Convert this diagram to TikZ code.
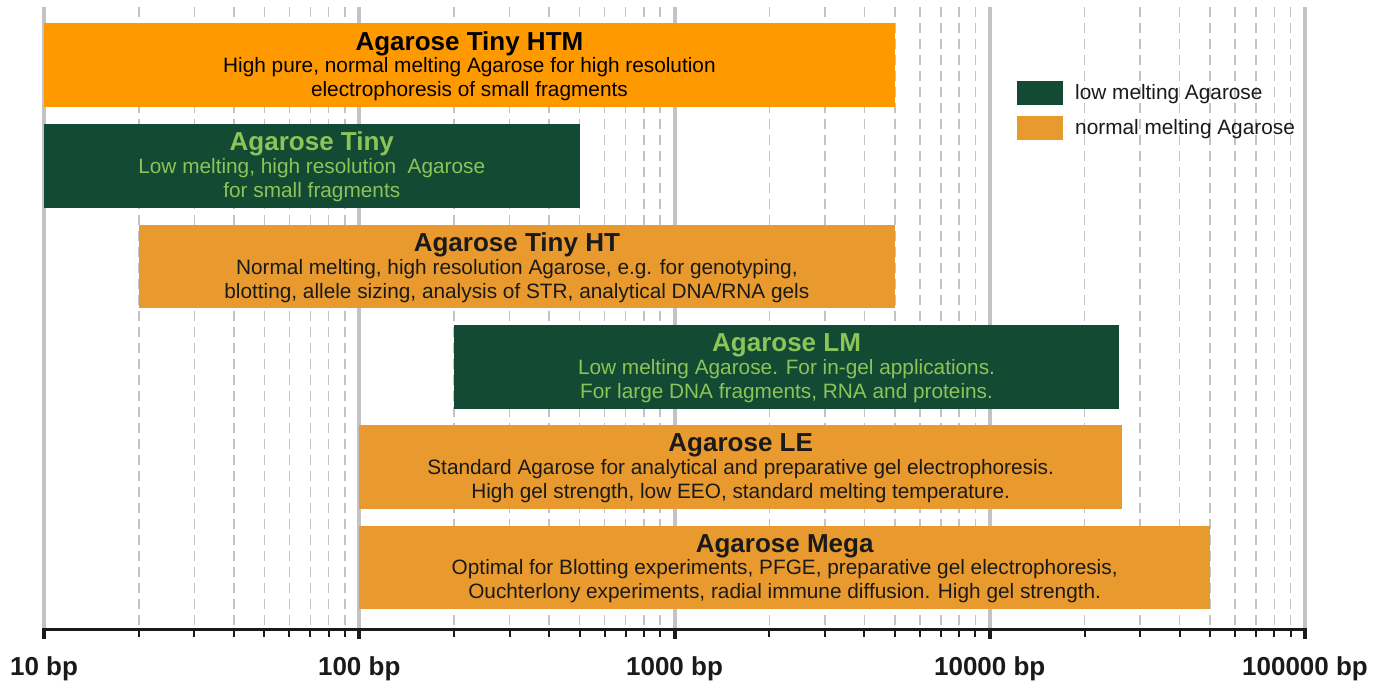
\documentclass[tikz,border=0pt]{standalone}
\usepackage{fontspec}
\setmainfont{Liberation Sans}
\definecolor{gridgray}{HTML}{C3C3C7}
\definecolor{orangeA}{HTML}{FF9900}
\definecolor{orangeB}{HTML}{E99A2E}
\definecolor{greenA}{HTML}{134A33}
\definecolor{greenT}{HTML}{8CC45A}
\definecolor{textdark}{HTML}{1A1A1A}
\begin{document}
\begin{tikzpicture}[x=1pt,y=-1pt,
  declare function={xp(\e,\m)=44+315.25*(\e-1+log10(\m));},
  majorline/.style={draw=gridgray,line width=4pt},
  minorline/.style={draw=gridgray,line width=1.6pt,dash pattern=on 10pt off 6pt},
  ttl/.style={font=\fontsize{26}{28}\selectfont\bfseries,inner sep=0pt},
  body/.style={font=\fontsize{20.8}{24}\selectfont,align=center,inner sep=0pt},
  axlab/.style={font=\fontsize{26}{28}\selectfont\bfseries,text=textdark,inner sep=0pt},
  leg/.style={font=\fontsize{20.8}{22}\selectfont,text=textdark,anchor=west,inner sep=0pt}]
\useasboundingbox (0,0) rectangle (1373,683);
% grid
\foreach \e in {1,2,3,4}{
  \foreach \k in {2,...,9}{
    \draw[minorline] ({xp(\e,\k)},7) -- ({xp(\e,\k)},628);
    \draw[line width=2pt,textdark] ({xp(\e,\k)},629) -- ({xp(\e,\k)},637);
  }}
\foreach \e in {1,2,3,4,5}{
  \draw[majorline] ({xp(\e,1)},7) -- ({xp(\e,1)},628);
  \draw[line width=4pt,textdark] ({xp(\e,1)},629) -- ({xp(\e,1)},639);
}
\draw[line width=3pt,textdark] ({xp(1,1)-2},629) -- ({xp(5,1)+2},629);
% axis labels
\node[axlab] (l1) at ({xp(1,1)},669) {10 bp};
\node[axlab] (l2) at ({xp(2,1)},669) {100 bp};
\node[axlab] (l3) at ({xp(3,1)},669) {1000 bp};
\node[axlab] (l4) at ({xp(4,1)},669) {10000 bp};
\node[axlab] (l5) at ({xp(5,1)},669) {100000 bp};
% bars
\fill[orangeA] ({xp(1,1)},23) rectangle ({xp(3,5)},107);
\node[ttl,text=black] (htmT) at ({(xp(1,1)+xp(3,5))/2},44) {Agarose Tiny HTM};
\node[body,text=black] (htmB) at ({(xp(1,1)+xp(3,5))/2},79) {High pure, normal melting Agarose for high resolution\\electrophoresis of small fragments};
\fill[greenA] ({xp(1,1)},124) rectangle ({xp(2,5)},208);
\node[ttl,text=greenT] (tinyT) at ({(xp(1,1)+xp(2,5))/2},144) {Agarose Tiny};
\node[body,text=greenT] (tinyB) at ({(xp(1,1)+xp(2,5))/2},180) {Low melting, high resolution\ \ Agarose\\for small fragments};
\fill[orangeB] ({xp(1,2)},225) rectangle ({xp(3,5)},308);
\node[ttl,text=textdark] (htT) at ({(xp(1,2)+xp(3,5))/2},245) {Agarose Tiny HT};
\node[body,text=textdark] (htB) at ({(xp(1,2)+xp(3,5))/2},281) {Normal melting, high resolution Agarose, e.g. for genotyping,\\blotting, allele sizing, analysis of STR, analytical DNA/RNA gels};
\fill[greenA] ({xp(2,2)},325) rectangle ({xp(4,2.57)},409);
\node[ttl,text=greenT] (lmT) at ({(xp(2,2)+xp(4,2.57))/2},345) {Agarose LM};
\node[body,text=greenT] (lmB) at ({(xp(2,2)+xp(4,2.57))/2},381) {Low melting Agarose. For in-gel applications.\\For large DNA fragments, RNA and proteins.};
\fill[orangeB] ({xp(2,1)},425) rectangle ({xp(4,2.63)},509);
\node[ttl,text=textdark] (leT) at ({(xp(2,1)+xp(4,2.63))/2},445) {Agarose LE};
\node[body,text=textdark] (leB) at ({(xp(2,1)+xp(4,2.63))/2},481) {Standard Agarose for analytical and preparative gel electrophoresis.\\High gel strength, low EEO, standard melting temperature.};
\fill[orangeB] ({xp(2,1)},526) rectangle ({xp(4,5)},609);
\node[ttl,text=textdark] (megaT) at ({(xp(2,1)+xp(4,5))/2},546) {Agarose Mega};
\node[body,text=textdark] (megaB) at ({(xp(2,1)+xp(4,5))/2},581) {Optimal for Blotting experiments, PFGE, preparative gel electrophoresis,\\Ouchterlony experiments, radial immune diffusion. High gel strength.};
% legend
\fill[greenA] (1017,81) rectangle (1063,105);
\node[leg] (legG) at (1075,94) {low melting Agarose};
\fill[orangeB] (1017,116) rectangle (1063,140);
\node[leg] (legO) at (1075,129) {normal melting Agarose};
\end{tikzpicture}
\end{document}
